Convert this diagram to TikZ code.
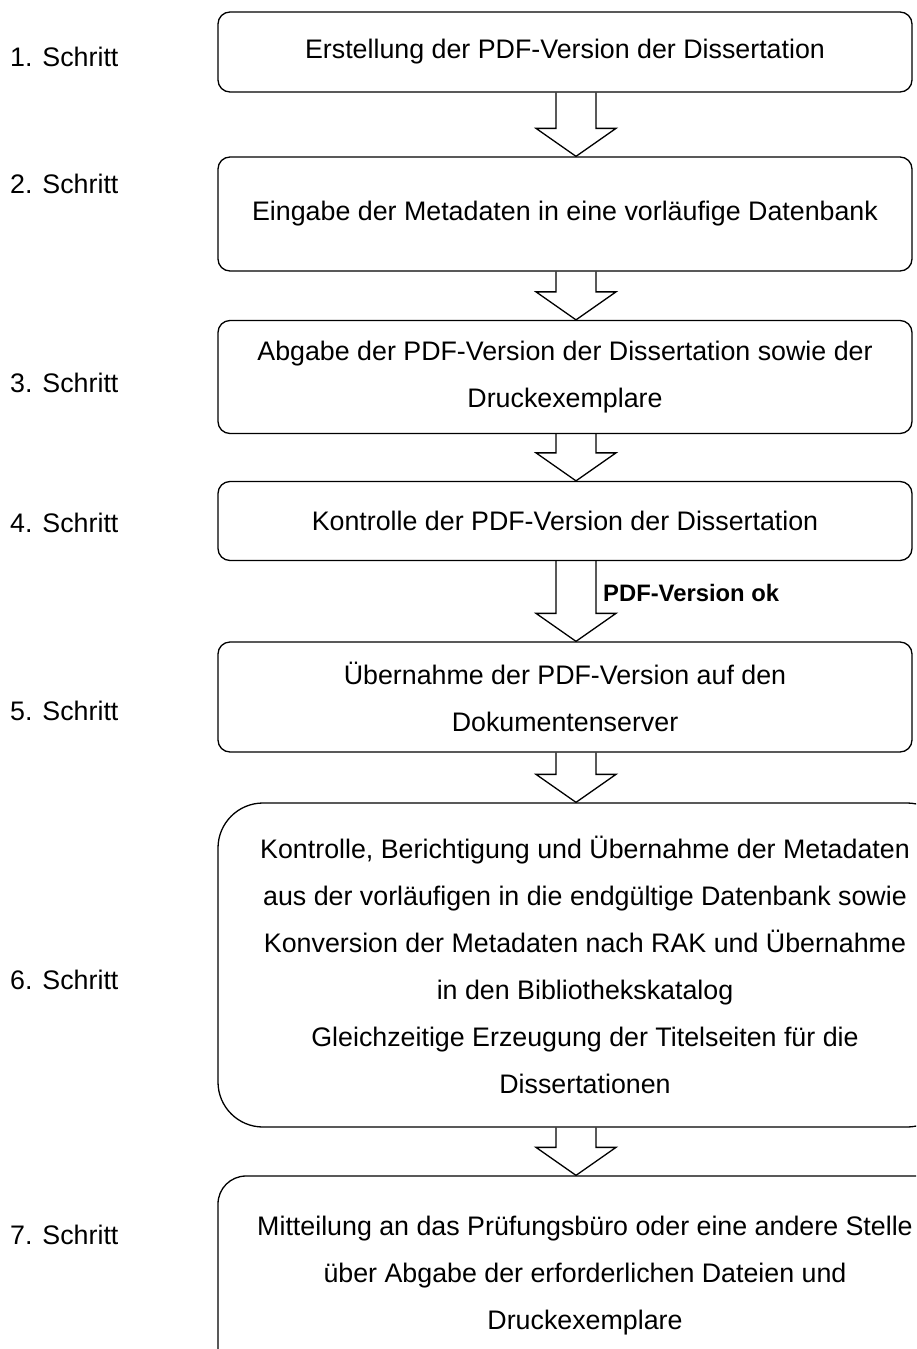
\documentclass[tikz,border=0pt]{standalone}
\usepackage{fontspec}
\setmainfont{Liberation Sans}
\usetikzlibrary{calc}

\newcommand{\stepfont}{\fontsize{26.8}{47}\selectfont}
\newcommand{\okfont}{\fontsize{23.8}{28}\selectfont\bfseries}

\tikzset{
        box/.style={draw, line width=1.3pt, rounded corners=12pt, align=center, inner sep=0pt},
        steplabel/.style={anchor=west, inner sep=0pt},
        hollow/.style={draw, line width=1.3pt, line join=miter,
                to path={($(\tikztostart)+(-20,0)$) -- ($(\tikztotarget)+(-20,-28)$)
                        -- ($(\tikztotarget)+(-40,-28)$) -- (\tikztotarget)
                        -- ($(\tikztotarget)+(40,-28)$) -- ($(\tikztotarget)+(20,-28)$)
                        -- ($(\tikztostart)+(20,0)$)}}
}

\begin{document}
\begin{tikzpicture}[x=1pt, y=-1pt, font=\stepfont]
        \useasboundingbox (0,0) rectangle (916,1349);
        \clip (0,0) rectangle (916,1349);
        \coordinate (ax) at (576,0);

        \node[steplabel] (s1) at (10,57) {1. Schritt};
        \node[steplabel] (s2) at (10,184) {2. Schritt};
        \node[steplabel] (s3) at (10,383) {3. Schritt};
        \node[steplabel] (s4) at (10,523) {4. Schritt};
        \node[steplabel] (s5) at (10,711) {5. Schritt};
        \node[steplabel] (s6) at (10,980) {6. Schritt};
        \node[steplabel] (s7) at (10,1235) {7. Schritt};

        \node[box, minimum width=694pt, minimum height=80pt] (b1) at (565,52)
                {Erstellung der PDF-Version der Dissertation};
        \node[box, minimum width=694pt, minimum height=114pt] (b2) at (565,214)
                {Eingabe der Metadaten in eine vorläufige Datenbank};
        \node[box, minimum width=694pt, minimum height=113pt] (b3) at (565,377)
                {Abgabe der PDF-Version der Dissertation sowie der\\Druckexemplare};
        \node[box, minimum width=694pt, minimum height=79pt] (b4) at (565,521)
                {Kontrolle der PDF-Version der Dissertation};
        \node[box, minimum width=694pt, minimum height=110pt] (b5) at (565,697)
                {Übernahme der PDF-Version auf den\\Dokumentenserver};
        \node[box, rounded corners=45pt, minimum width=734pt, minimum height=324pt] (b6) at (585,965)
                {Kontrolle, Berichtigung und Übernahme der Metadaten\\aus der vorläufigen in die endgültige Datenbank sowie\\Konversion der Metadaten nach RAK und Übernahme\\in den Bibliothekskatalog\\Gleichzeitige Erzeugung der Titelseiten für die\\Dissertationen};
        \node[box, rounded corners=28pt, minimum width=734pt, minimum height=200pt] (b7) at (585,1276)
                {Mitteilung an das Prüfungsbüro oder eine andere Stelle\\über Abgabe der erforderlichen Dateien und\\Druckexemplare};

        \draw[hollow] (b1.south -| ax) to (b2.north -| ax);
        \draw[hollow] (b2.south -| ax) to (b3.north -| ax);
        \draw[hollow] (b3.south -| ax) to (b4.north -| ax);
        \draw[hollow] (b4.south -| ax) to (b5.north -| ax);
        \draw[hollow] (b5.south -| ax) to (b6.north -| ax);
        \draw[hollow] (b6.south -| ax) to (b7.north -| ax);

        \node[anchor=west, inner sep=0pt, font=\okfont] (ok) at (603,593) {PDF-Version ok};
\end{tikzpicture}
\end{document}
